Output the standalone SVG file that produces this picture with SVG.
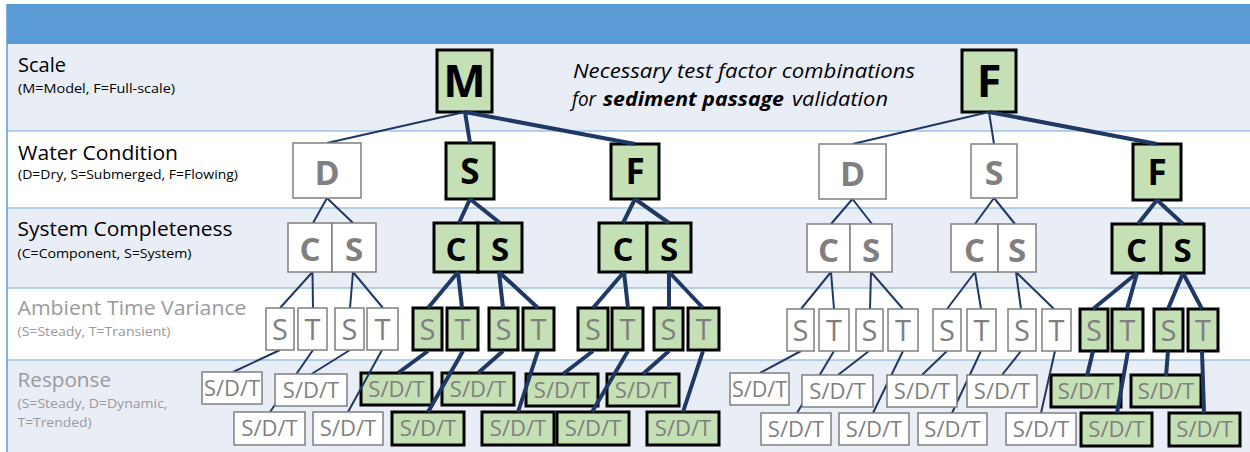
<svg xmlns="http://www.w3.org/2000/svg" width="1250" height="452" viewBox="0 0 1250 452">
<style>
text{font-family:"Open Sans","Noto Sans",sans-serif}
.g rect{fill:#C5E0B4;stroke:#000;stroke-width:3}
.w rect{fill:#fff;stroke:#7F7F7F;stroke-width:1.5}
.big{font-weight:700;text-anchor:middle}
.g .big{fill:#000}
.w .big{fill:#808080}
.amb{font-size:29px;fill:#7F7F7F;text-anchor:middle}
.sdt{font-size:22px;fill:#7F7F7F;text-anchor:middle}
.lab{font-size:20px;fill:#000}
.sub{font-size:13px;fill:#000}
.grey{fill:#9A9A9A}
.title{font-size:20px;font-style:italic;fill:#000}
.thin{stroke:#203864;stroke-width:2;fill:none}
.thick{stroke:#203864;stroke-width:4;fill:none}
.sep{stroke:#9DC3E6;stroke-width:1.5}
</style>
<rect x="0" y="0" width="1250" height="452" fill="#fff"/>
<g id="bands">
<rect x="7" y="4" width="1243" height="40" fill="#5B9BD5"/>
<rect x="7" y="44" width="1243" height="87" fill="#E9EDF6"/>
<rect x="7" y="131" width="1243" height="77" fill="#fff"/>
<rect x="7" y="208" width="1243" height="80" fill="#E9EDF6"/>
<rect x="7" y="288" width="1243" height="72" fill="#fff"/>
<rect x="7" y="360" width="1243" height="92" fill="#E9EDF6"/>
<line class="sep" x1="7" y1="131" x2="1250" y2="131"/>
<line class="sep" x1="7" y1="208" x2="1250" y2="208"/>
<line class="sep" x1="7" y1="288" x2="1250" y2="288"/>
<line class="sep" x1="7" y1="360" x2="1250" y2="360"/>
<line x1="7" y1="4" x2="7" y2="452" stroke="#5B9BD5" stroke-width="1.5"/>
</g>
<g id="labels">
<text class="lab" x="18" y="72" textLength="48" lengthAdjust="spacingAndGlyphs">Scale</text>
<text class="sub" x="18" y="93" textLength="157" lengthAdjust="spacingAndGlyphs">(M=Model, F=Full-scale)</text>
<text class="lab" x="18" y="160" textLength="160" lengthAdjust="spacingAndGlyphs">Water Condition</text>
<text class="sub" x="18" y="179" textLength="220" lengthAdjust="spacingAndGlyphs">(D=Dry, S=Submerged, F=Flowing)</text>
<text class="lab" x="17.5" y="236" textLength="215" lengthAdjust="spacingAndGlyphs">System Completeness</text>
<text class="sub" x="17.5" y="258" textLength="174" lengthAdjust="spacingAndGlyphs">(C=Component, S=System)</text>
<text class="lab grey" x="17.5" y="315" textLength="229" lengthAdjust="spacingAndGlyphs">Ambient Time Variance</text>
<text class="sub grey" x="17.5" y="336" textLength="153" lengthAdjust="spacingAndGlyphs">(S=Steady, T=Transient)</text>
<text class="lab grey" x="17.5" y="387" textLength="93.5" lengthAdjust="spacingAndGlyphs">Response</text>
<text class="sub grey" x="17.5" y="408" textLength="150" lengthAdjust="spacingAndGlyphs">(S=Steady, D=Dynamic,</text>
<text class="sub grey" x="17.5" y="426.5" textLength="74" lengthAdjust="spacingAndGlyphs">T=Trended)</text>
</g>
<g id="title">
<text class="title" x="573" y="78" textLength="342" lengthAdjust="spacingAndGlyphs">Necessary test factor combinations</text>
<text class="title" x="572" y="106" textLength="24" lengthAdjust="spacingAndGlyphs">for</text>
<text class="title" x="603" y="106" font-weight="700" textLength="181" lengthAdjust="spacingAndGlyphs">sediment passage</text>
<text class="title" x="792" y="106" textLength="96" lengthAdjust="spacingAndGlyphs">validation</text>
</g>

<!-- green nodes -->
<g id="scale-M" class="g"><rect x="437" y="50" width="55" height="62"/><text class="big" x="464.5" y="97" font-size="45">M</text></g>
<g id="scale-F" class="g"><rect x="962" y="50" width="54" height="62"/><text class="big" x="989" y="97" font-size="45">F</text></g>
<g id="M-water-S" class="g"><rect x="446" y="143" width="48" height="56"/><text class="big" x="470" y="184" font-size="35">S</text></g>
<g id="M-water-F" class="g"><rect x="611" y="144" width="48" height="55"/><text class="big" x="635" y="184" font-size="35">F</text></g>
<g id="F-water-F" class="g"><rect x="1133" y="144" width="48" height="56"/><text class="big" x="1157" y="185" font-size="35">F</text></g>

<g id="MS-sys" class="g"><rect x="434" y="223" width="44" height="49"/><rect x="478" y="223" width="44" height="49"/><text class="big" x="456" y="261" font-size="33">C</text><text class="big" x="500" y="261" font-size="33">S</text></g>
<g id="MF-sys" class="g"><rect x="599" y="223" width="48" height="49"/><rect x="647" y="223" width="44" height="49"/><text class="big" x="623" y="261" font-size="33">C</text><text class="big" x="669" y="261" font-size="33">S</text></g>
<g id="FF-sys" class="g"><rect x="1112" y="224" width="49" height="49"/><rect x="1161" y="224" width="43" height="49"/><text class="big" x="1136.5" y="262" font-size="33">C</text><text class="big" x="1182.5" y="262" font-size="33">S</text></g>

<g id="MS-amb" class="g">
<rect x="413" y="308" width="29" height="42"/><rect x="447" y="308" width="31" height="42"/><rect x="489" y="308" width="29" height="42"/><rect x="523" y="308" width="31" height="42"/>
<text class="amb" x="427.5" y="340">S</text><text class="amb" x="462.5" y="340">T</text><text class="amb" x="503.5" y="340">S</text><text class="amb" x="538.5" y="340">T</text>
</g>
<g id="MF-amb" class="g">
<rect x="578" y="308" width="30" height="42"/><rect x="612" y="308" width="31" height="42"/><rect x="654" y="308" width="29" height="42"/><rect x="688" y="308" width="31" height="42"/>
<text class="amb" x="593" y="340">S</text><text class="amb" x="627.5" y="340">T</text><text class="amb" x="668.5" y="340">S</text><text class="amb" x="703.5" y="340">T</text>
</g>
<g id="FF-amb" class="g">
<rect x="1080" y="309" width="28" height="42"/><rect x="1112" y="309" width="31" height="42"/><rect x="1154" y="309" width="29" height="42"/><rect x="1188" y="309" width="30" height="42"/>
<text class="amb" x="1094" y="341">S</text><text class="amb" x="1127.5" y="341">T</text><text class="amb" x="1168.5" y="341">S</text><text class="amb" x="1203" y="341">T</text>
</g>

<g id="MS-resp" class="g">
<rect x="361" y="373" width="71" height="32"/><rect x="442" y="373" width="72" height="32"/>
<rect x="392" y="412" width="72" height="33"/><rect x="482" y="412" width="72" height="33"/>
<text class="sdt" x="396.5" y="397">S/D/T</text><text class="sdt" x="478" y="397">S/D/T</text>
<text class="sdt" x="428" y="436">S/D/T</text><text class="sdt" x="518" y="436">S/D/T</text>
</g>
<g id="MF-resp" class="g">
<rect x="526" y="374" width="72" height="32"/><rect x="607" y="374" width="72" height="32"/>
<rect x="557" y="412" width="72" height="33"/><rect x="647" y="412" width="72" height="33"/>
<text class="sdt" x="562" y="398">S/D/T</text><text class="sdt" x="643" y="398">S/D/T</text>
<text class="sdt" x="593" y="436">S/D/T</text><text class="sdt" x="683" y="436">S/D/T</text>
</g>
<g id="FF-resp" class="g">
<rect x="1051" y="375" width="70" height="32"/><rect x="1131" y="375" width="70" height="32"/>
<rect x="1081" y="413" width="71" height="33"/><rect x="1169" y="413" width="71" height="33"/>
<text class="sdt" x="1086" y="399">S/D/T</text><text class="sdt" x="1166" y="399">S/D/T</text>
<text class="sdt" x="1116.5" y="437">S/D/T</text><text class="sdt" x="1204.5" y="437">S/D/T</text>
</g>

<g id="connectors">
<!-- thin -->
<path class="thin" d="M464.5 112L327 143M989 112L852.5 144M989 112L994 144"/>
<path class="thin" d="M327 198L313 223M327 198L353 223M852.5 199L831 224M852.5 199L872 224M994 198L975 224M994 198L1015 224"/>
<path class="thin" d="M312.5 272L280 308M312.5 272L313 308M353 272L350 308M353 272L383 308"/>
<path class="thin" d="M831 272L801 309M831 272L834 309M871 272L870 309M871 272L903 309"/>
<path class="thin" d="M975 272L947 309M975 272L981 309M1016 272L1021 309M1016 272L1054 309"/>
<path class="thin" d="M280 350L233 372M313 350L270 412M350 350L311.5 374M382 350L348 412"/>
<path class="thin" d="M801 351L760 373M834 351L797 413M869 351L838 375M903 351L873 413"/>
<path class="thin" d="M947 351L922 375M981 351L952 413M1021 351L1002 375M1055 351L1041 413"/>
<!-- thick -->
<path class="thick" d="M465 112L470 143M465 112L635 144M989 112L1157 144"/>
<path class="thick" d="M470 199L459 223M470 199L500 223M635 199L623 223M635 199L669 223M1157 200L1138 224M1157 200L1183 224"/>
<path class="thick" d="M458 272L428 308M458 272L462 308M499 272L503 308M499 272L538 308"/>
<path class="thick" d="M624 272L593 308M624 272L628 308M669 272L669 308M669 272L703 308"/>
<path class="thick" d="M1137 273L1093 309M1137 273L1127 309M1183 273L1168 309M1183 273L1202 309"/>
<path class="thick" d="M428 351L398 373M463 351L428 412M503 351L478 373M538 351L518 412"/>
<path class="thick" d="M593 351L563 374M628 351L592 412M669 351L643 374M703 351L683 412"/>
<path class="thick" d="M1093 351L1087 376M1128 351L1117 413M1168 351L1166 376M1202 351L1204 413"/>
</g>

<!-- white nodes -->
<g id="M-water-D" class="w"><rect x="293" y="143" width="68" height="55"/><text class="big" x="327" y="185" font-size="34">D</text></g>
<g id="F-water-D" class="w"><rect x="819" y="144" width="67" height="55"/><text class="big" x="852.5" y="186" font-size="34">D</text></g>
<g id="F-water-S" class="w"><rect x="971" y="144" width="46" height="54"/><text class="big" x="994" y="185" font-size="34">S</text></g>

<g id="MD-sys" class="w"><rect x="288" y="223" width="44" height="49"/><rect x="332" y="223" width="44" height="49"/><text class="big" x="310" y="261" font-size="33">C</text><text class="big" x="354" y="261" font-size="33">S</text></g>
<g id="FD-sys" class="w"><rect x="807" y="224" width="43" height="48"/><rect x="850" y="224" width="42" height="48"/><text class="big" x="828.5" y="262" font-size="33">C</text><text class="big" x="871" y="262" font-size="33">S</text></g>
<g id="FS-sys" class="w"><rect x="951" y="224" width="47" height="48"/><rect x="998" y="224" width="38" height="48"/><text class="big" x="974.5" y="262" font-size="33">C</text><text class="big" x="1017" y="262" font-size="33">S</text></g>

<g id="MD-amb" class="w">
<rect x="266" y="308" width="28" height="42"/><rect x="298" y="308" width="29" height="42"/><rect x="335" y="308" width="29" height="42"/><rect x="367" y="308" width="31" height="42"/>
<text class="amb" x="280" y="340">S</text><text class="amb" x="312.5" y="340">T</text><text class="amb" x="349.5" y="340">S</text><text class="amb" x="382.5" y="340">T</text>
</g>
<g id="FD-amb" class="w">
<rect x="787" y="309" width="27" height="42"/><rect x="819" y="309" width="30" height="42"/><rect x="856" y="309" width="27" height="42"/><rect x="888" y="309" width="30" height="42"/>
<text class="amb" x="800.5" y="341">S</text><text class="amb" x="834" y="341">T</text><text class="amb" x="869.5" y="341">S</text><text class="amb" x="903" y="341">T</text>
</g>
<g id="FS-amb" class="w">
<rect x="933" y="309" width="28" height="42"/><rect x="967" y="309" width="29" height="42"/><rect x="1008" y="309" width="28" height="42"/><rect x="1042" y="309" width="29" height="42"/>
<text class="amb" x="947" y="341">S</text><text class="amb" x="981.5" y="341">T</text><text class="amb" x="1022" y="341">S</text><text class="amb" x="1056.5" y="341">T</text>
</g>

<g id="MD-resp" class="w">
<rect x="202" y="372" width="60" height="32"/><rect x="275" y="374" width="72" height="32"/>
<rect x="234" y="412" width="71" height="33"/><rect x="313" y="412" width="70" height="33"/>
<text class="sdt" x="232" y="396" textLength="56" lengthAdjust="spacingAndGlyphs">S/D/T</text><text class="sdt" x="311" y="398">S/D/T</text>
<text class="sdt" x="269.5" y="436">S/D/T</text><text class="sdt" x="348" y="436">S/D/T</text>
</g>
<g id="FD-resp" class="w">
<rect x="730" y="373" width="59" height="32"/><rect x="802" y="375" width="71" height="32"/>
<rect x="761" y="413" width="70" height="32"/><rect x="839" y="413" width="70" height="32"/>
<text class="sdt" x="759.5" y="397" textLength="55" lengthAdjust="spacingAndGlyphs">S/D/T</text><text class="sdt" x="837.5" y="399">S/D/T</text>
<text class="sdt" x="796" y="437">S/D/T</text><text class="sdt" x="874" y="437">S/D/T</text>
</g>
<g id="FS-resp" class="w">
<rect x="887" y="375" width="70" height="32"/><rect x="967" y="375" width="70" height="32"/>
<rect x="918" y="413" width="69" height="32"/><rect x="1006" y="413" width="70" height="32"/>
<text class="sdt" x="922" y="399">S/D/T</text><text class="sdt" x="1002" y="399">S/D/T</text>
<text class="sdt" x="952.5" y="437">S/D/T</text><text class="sdt" x="1041" y="437">S/D/T</text>
</g>
</svg>
